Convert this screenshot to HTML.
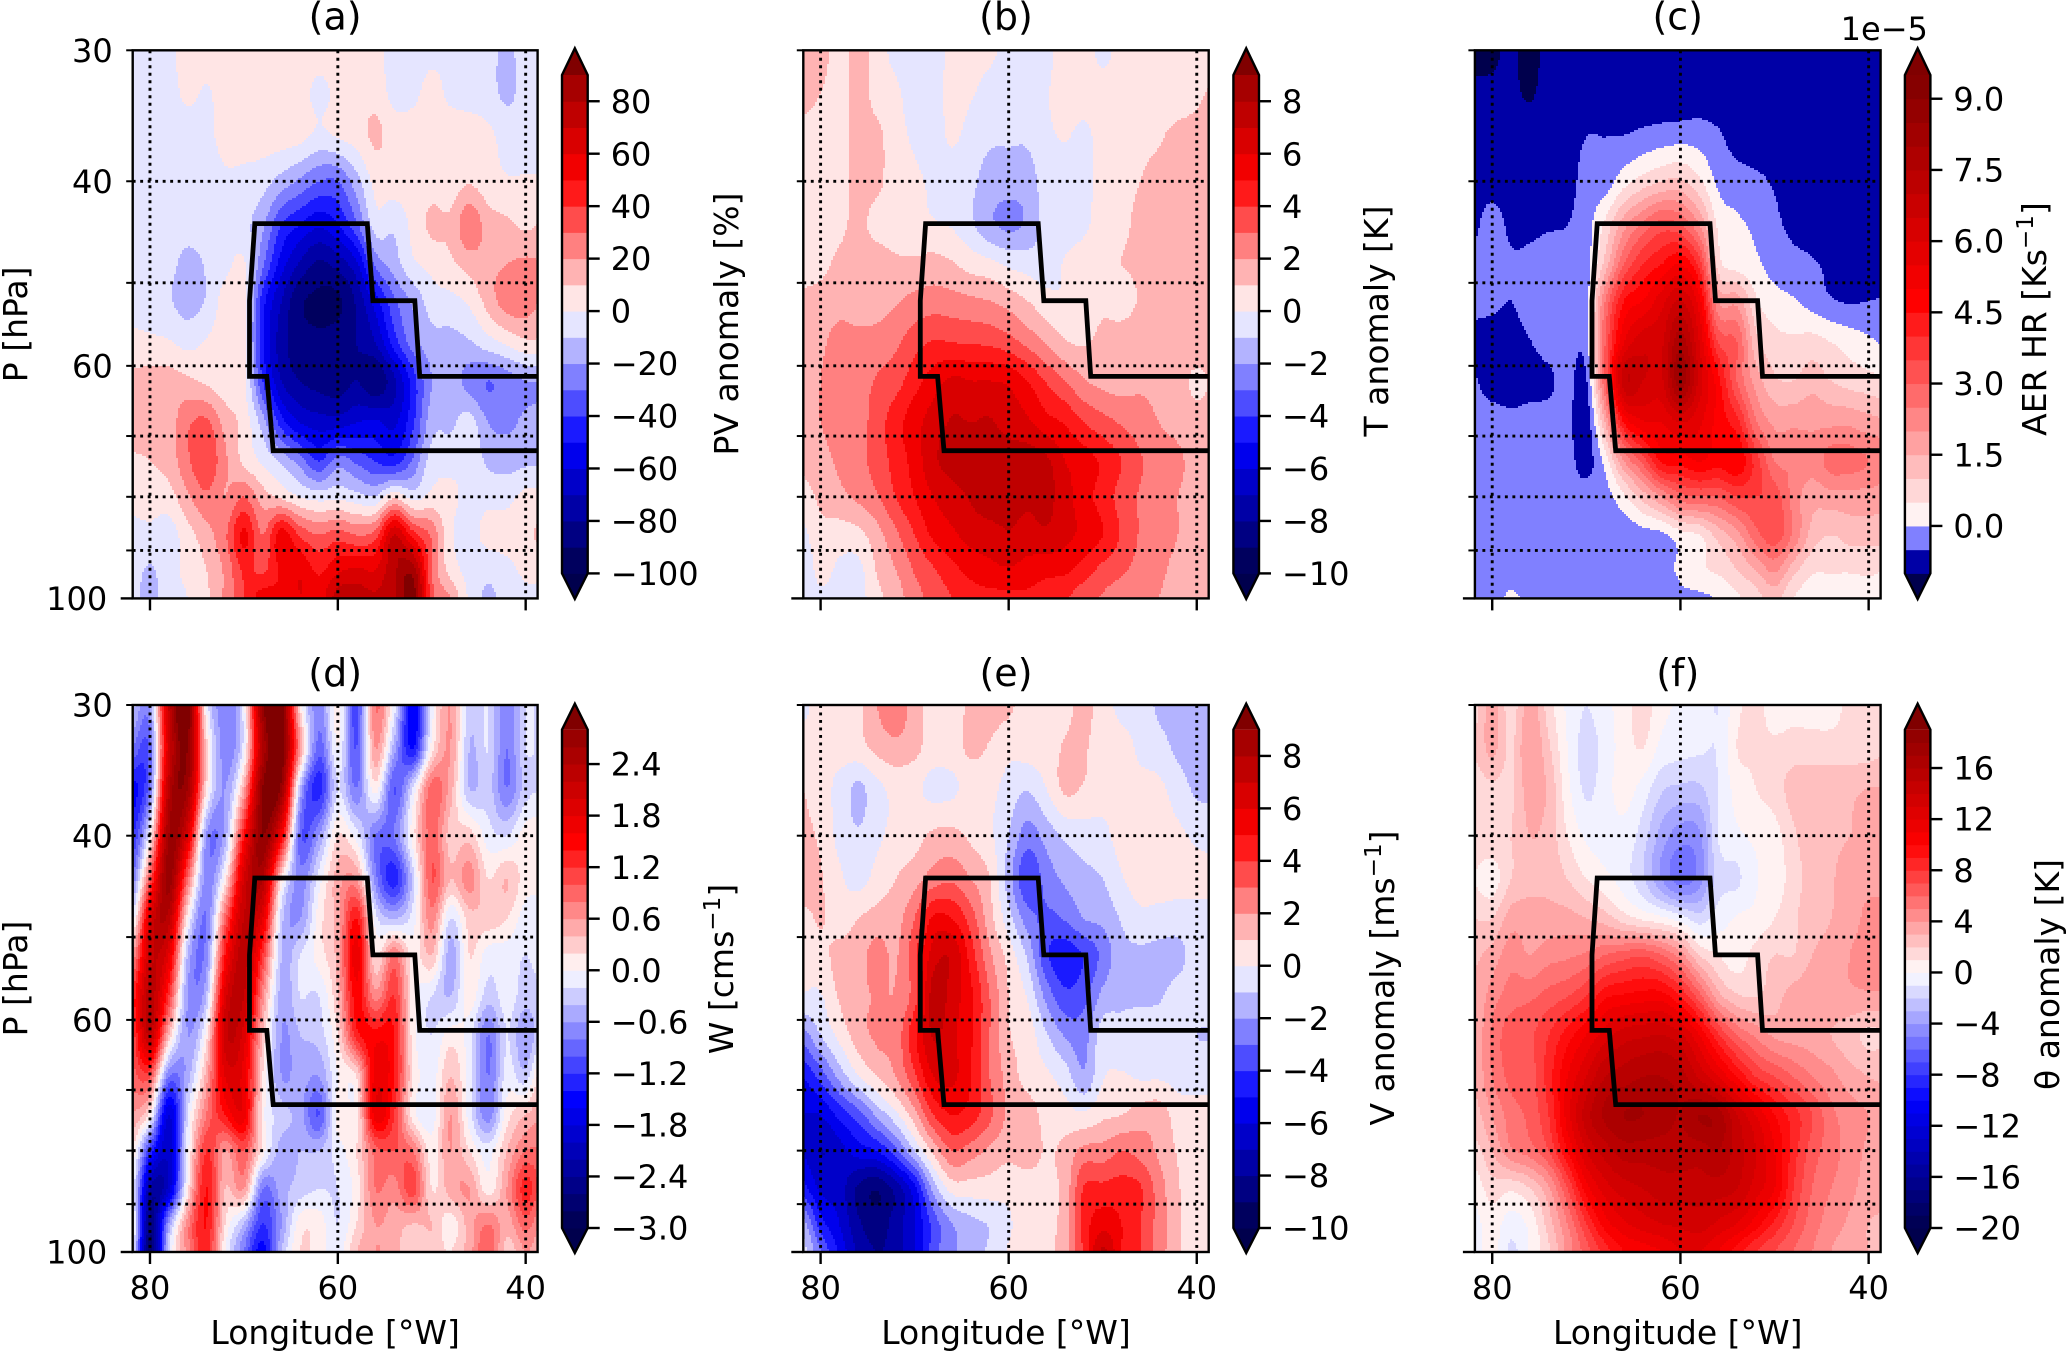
<!DOCTYPE html>
<html lang="en">
<head>
<meta charset="utf-8">
<title>Anomaly cross-sections</title>
<style>
html,body{margin:0;padding:0;background:#fff;}
svg{display:block;}
text{font-family:"DejaVu Sans","Liberation Sans",sans-serif;fill:#000;}
</style>
</head>
<body>
<svg id="figure" xmlns="http://www.w3.org/2000/svg" width="2067" height="1352" viewBox="0 0 2067 1352"></svg>
<script>
const longitudes = [82,80,78,76,74,72,70,68,66,64,62,60,58,56,54,52,50,48,46,44,42,40,38];
const pressures = [30,33,36,40,44,48,52,57,62,68,74,80,87,94,100];
const gridLongitudes = [80,60,40];
const gridPressures = [40,50,60,70,80,90];
const yMinorTicks = [30,40,50,60,70,80,90];
const yLabelledMinor = [30,40,60];
const regionLon = [38,51.28,51.8,56.27,56.86,68.84,69.4,69.4,67.56,66.88,38];
const regionP = [61.4,61.4,52,52,43.9,43.9,52,61.4,61.4,72.3,72.3];

const pvAnomaly = [
[-3,-4,-2,4,4,5,5,5,5,5,3,4,4,2,-3,-4,-2,-2,-5,-7,-12,-6,-5],
[-4,-5,-4,2,-1,4,5,5,5,3,-2,2,4,6,-3,-2,3,-2,-4,-6,-12,-6,-5],
[-5,-6,-6,-5,-3,4,5,5,5,4,-2,2,5,12,5,4,5,5,5,2,-4,-5,-5],
[-5,-5,-6,-6,-6,-2,-3,-6,-14,-22,-30,-30,-14,3,5,5,6,5,9,4,1,1,1],
[-3,-5,-5,-6,-6,-5,-7,-18,-40,-50,-58,-50,-32,-5,-8,3,12,12,28,15,12,8,12],
[-4,-5,-7,-13,-9,-3,1,-28,-55,-72,-82,-76,-62,-28,-15,-2,3,8,14,17,20,22,20],
[-4,-5,-9,-14,-9,4,3,-45,-70,-88,-92,-92,-78,-55,-32,-18,-5,-3,2,14,25,25,18],
[3,2,1,-3,1,5,3,-48,-75,-85,-88,-85,-80,-70,-45,-25,-14,-13,-11,-4,2,8,8],
[12,14,14,12,8,4,2,-40,-70,-80,-84,-86,-80,-88,-72,-45,-20,-15,-24,-30,-25,-20,-20],
[12,13,15,28,32,16,6,-15,-45,-60,-65,-65,-60,-58,-62,-42,-14,-12,-6,-20,-22,-18,-16],
[9,10,14,28,38,22,8,-2,-12,-25,-40,-25,-32,-40,-45,-28,-5,-3,-2,-12,-14,-12,-12],
[3,5,6,18,28,20,30,15,8,0,-4,-2,-6,-9,8,-4,3,2,-3,-3,-3,3,3],
[-3,-3,-5,6,16,28,52,30,55,38,30,35,30,35,70,45,28,2,-3,3,4,8,12],
[-6,-11,-4,3,10,22,42,38,52,58,48,58,62,60,78,85,30,6,-3,-7,-3,2,3],
[-6,-13,-5,0,8,22,40,55,52,60,55,75,75,72,78,95,35,20,-2,-12,-5,-2,-3]
];
const tAnomaly = [
[1.5,1.5,.5,1.5,.5,-.3,-.5,-.5,.3,.4,.2,-.3,-.2,-.3,.5,.5,-.3,.4,.5,.5,.5,.5,.5],
[1.5,1,.5,1.4,.6,.2,-.5,-.5,.4,.1,-.4,-.5,-.6,-.1,.5,.5,.5,.5,.5,.5,.5,.8,1.2],
[.6,.5,.6,1.4,1.2,.4,-.2,-.5,.2,-.4,-.8,-.8,-.8,-.2,.1,-.2,.4,.6,.8,.9,1.2,1.3,1.5],
[.5,.5,.6,1.3,1.2,.5,.2,-.2,-.5,-.8,-1.4,-1.6,-1.5,-.5,-.4,-.3,.4,.7,1,1.2,1.3,1.4,1.5],
[.5,.6,.8,1.2,.7,.5,.3,.1,-.1,-.8,-1.8,-2.2,-1.8,-.6,-.5,-.2,.5,.8,1.2,1.3,1.4,1.5,1.5],
[.8,.8,1.2,1.4,1.5,1.2,1.2,1.4,1.1,.6,.3,-.2,-.4,-.5,.1,.5,.8,1,1.2,1.4,1.5,1.5,1.5],
[1.1,1.3,1.6,1.5,1.6,1.9,2.3,2.5,2.4,2.2,2,1.6,1,.4,.1,.4,.8,.6,1.1,1.4,1.5,1.5,1.5],
[1.5,1.8,2.4,2.3,2.4,2.8,3.6,4.1,4,3.9,3.8,3.4,2.7,1.9,1.1,.9,1.3,1.5,1.6,1.6,1.6,1.6,1.6],
[1.6,2,2.6,2.6,3.1,3.6,4.6,5.5,6.2,6,6,5.8,5,3.9,3,2.1,1.7,1.6,1.8,1.7,1.4,.8,1.2],
[1.6,2,2.5,2.6,3.5,4.6,5.6,6.5,7.1,7,7.1,6.6,6.2,5.4,4.9,4,3.4,2.9,2.5,2,1.7,1.4,1.4],
[1.2,1.6,2.2,2.7,3.4,4.4,5.4,6.8,7.3,7.4,7.4,7.5,7.5,7.2,6,5.5,4.8,4,3.1,2.6,2.2,1.6,1.5],
[.6,1.2,1.7,2.2,2.9,4,5,6,6.6,7.1,7.5,7.4,7.2,7.3,6.4,5.4,4.6,3.6,2.9,2.4,2,1.6,1.5],
[-.3,.7,.5,.7,1.6,2.8,4,5.2,5.8,6.4,6.6,6.9,6.6,6.8,6.3,5.7,5,3.9,2.9,2.4,2,1.5,1.4],
[-.8,.3,-.2,-.3,1.1,2,3.1,3.9,4.7,5.3,5.7,5.9,5.6,5.3,5.2,4.5,3.7,3.2,2.6,2.2,1.7,1.3,1.2],
[-.5,-.2,-.4,-.4,.7,1.5,2.6,3.4,4,4.6,4.7,4.7,4.8,4.5,4.1,3.4,2.9,2.4,2.1,2,1.5,1.2,1.2]
];
const aerHeating = [
[-1.15,-1.1,-.9,-1.2,-.8,-.8,-.8,-.8,-.8,-.8,-.8,-.8,-.8,-.8,-.8,-.8,-.8,-.8,-.8,-.8,-.8,-.8,-.8],
[-.9,-.9,-.9,-1.05,-.8,-.8,-.8,-.8,-.8,-.8,-.8,-.8,-.8,-.8,-.8,-.8,-.8,-.8,-.8,-.8,-.8,-.8,-.8],
[-.8,-.8,-.8,-.8,-.8,-.75,-.52,-.52,-.52,-.4,-.3,-.25,-.25,-.45,-.7,-.8,-.8,-.8,-.8,-.8,-.8,-.8,-.8],
[-.7,-.7,-.8,-.8,-.8,-.7,-.3,-.25,.3,.7,1,1.1,.6,-.1,-.3,-.4,-.55,-.7,-.8,-.8,-.8,-.8,-.8],
[-.6,-.3,-.6,-.6,-.55,-.5,-.2,.6,1.8,2.6,3.2,3,2,.4,.1,-.1,-.4,-.6,-.7,-.8,-.8,-.8,-.8],
[-.4,-.3,-.45,-.4,-.3,-.25,-.2,1.2,3,4,4.5,5,3.8,.8,.3,.1,-.2,-.35,-.45,-.6,-.8,-.8,-.8],
[-.4,-.4,-.5,-.3,-.3,-.25,-.2,2.5,4.5,5,5.8,6.5,5.2,2,1.8,.6,.2,.05,-.2,-.45,-.55,-.5,-.45],
[-.6,-.7,-.7,-.52,-.3,-.25,-.2,3,5.5,6.3,6.4,7.8,6,3.5,3,1.2,.7,.6,.7,.5,.3,.1,-.1],
[-.45,-.7,-.7,-.7,-.6,-.3,-.55,3,6.8,6.5,6.4,8.3,6.3,4.7,3,1.8,1.1,1,1.3,1,.8,.7,.5],
[-.3,-.3,-.4,-.3,-.3,-.35,-.8,1.5,4.5,5.4,5.5,6,5.6,4.8,4.2,2.6,1.9,1.9,1.9,1.9,1.9,1.7,1.6],
[-.3,-.3,-.3,-.3,-.3,-.3,-.7,.2,2,3.2,4.6,4.7,5,4.7,4.9,3.8,2.5,2.4,2.2,2.7,2.7,2.5,2.3],
[-.3,-.3,-.3,-.3,-.3,-.3,-.3,-.2,.4,1.2,2,2.8,3,3,3.5,3.5,3.3,2.3,1.7,1.8,1.8,1.8,1.7],
[-.3,-.3,-.3,-.3,-.3,-.3,-.3,-.3,-.3,-.2,-.1,.3,.5,1.2,1.8,2.8,3.3,2.4,1.3,1,1.2,1.2,1.2],
[-.3,-.3,-.3,-.3,-.3,-.3,-.3,-.3,-.3,-.3,-.2,.1,.4,.6,1,1.5,2.1,1.2,.6,.55,.55,.6,.5],
[-.3,-.3,.1,-.2,-.3,-.3,-.3,-.3,-.3,-.3,-.25,-.1,-.1,.05,.4,.8,1.2,.5,.2,.2,.2,.2,.2]
];
const wAnomaly = [
[-.3,-.6,2.2,3,0,-.7,-.1,2.7,3,.2,-.7,.1,-1.1,.8,-.1,-1.6,-.1,.6,-.3,-.2,-.8,-.2,-.3],
[-.8,-.9,2,2.8,.3,-.7,-.1,2.4,3,.6,-.9,0,-1,.6,-.5,-1.4,.1,.6,-.4,-.2,-.8,-.2,-.3],
[-1.5,-.8,2.3,2.6,.2,-.6,.5,2.8,2.7,-.4,-1.3,-.2,-.8,.1,-1,-.2,.9,.5,-.4,-.3,-.8,-.3,-.2],
[-1.3,0,2.6,1.9,-.6,-.5,1.4,2.8,1.6,-.9,-.6,.2,-.1,-.8,-.8,.1,.9,.3,.3,-.1,-.2,.1,.1],
[-.9,1,2.7,.9,-.7,.1,2,2.4,.2,-.7,-.1,.5,.6,-.7,-1.3,-.3,1,.4,.7,.2,.4,.1,.1],
[-.3,1.9,2.3,.1,-.8,.9,2.2,1.8,-.3,-.6,.1,.5,1.4,-.1,-.4,-.1,.7,-.2,.3,.3,.2,-.1,-.1],
[.5,2.1,1.8,-.4,-.7,1.4,2.3,1.2,-.4,-.2,.1,.5,1.7,.2,.8,.1,.4,-.5,.2,-.1,-.1,-.2,-.1],
[1.2,2.3,1.2,-.6,-.4,1.9,2.2,.7,-.5,-.2,-.2,.4,1.5,.7,1.2,.1,-.2,-.4,.1,-.3,-.1,-.3,-.2],
[1,2.2,.4,-.6,.1,2.1,1.9,.4,-.6,-.4,-.3,.2,1.3,1.5,1.4,.1,-.2,.1,-.1,-.8,-.2,-.6,-.1],
[.9,1,-.8,-.5,.5,1.8,1.7,.2,-.6,-.5,-.6,0,.2,1.7,1.4,.2,-.1,.4,-.1,-.8,-.1,-.3,.5],
[.6,.1,-1.8,-.2,.8,1.4,1.7,.1,-.3,-.5,-1,.1,.1,1.7,1.2,.1,-.1,.6,-.1,-.7,.1,.4,.6],
[.3,-1.2,-1.9,-.1,1.2,.6,1,.1,-.5,-.4,-.4,-.1,.2,.9,1,.8,.1,.6,.2,-.1,.4,.8,.8],
[.1,-2.2,-1.9,.1,1.4,.4,.6,-.8,-.5,-.3,-.2,-.2,.1,.8,.7,1.1,.2,.5,.6,.1,.6,1.3,.8],
[.3,-2.5,-.6,.7,1.4,.2,-.4,-1.2,-.6,.1,.1,-.2,.2,.6,.5,.4,.4,.1,.5,.8,.5,.9,.5],
[.2,-2.7,-.3,.7,1.3,0,-.8,-1.5,-.4,.2,.1,-.1,.4,.6,.5,.2,.3,.2,.5,1,.3,.6,.4]
];
const vAnomaly = [
[-.2,.3,.5,.8,2,2.7,1.5,.5,.4,1.3,1.4,1.2,.5,.5,.7,1.3,.5,-.3,-.4,-1.2,-1.3,-1.4,-1.2],
[.4,.2,.4,.6,1.3,1.7,1.3,.5,.6,1.2,.9,.3,.4,.5,1.1,1.1,.5,.4,-.2,-.6,-1.2,-1.4,-1.3],
[1,.4,-.3,-1.2,-.3,.3,.2,-.3,-.2,.4,.3,-.4,-.9,0,1.2,.9,.4,.4,.3,.2,-.5,-1.2,-1.2],
[1.3,.8,-.3,-.9,-.2,.3,.6,1.2,1.3,.8,.2,-1,-2.5,-1.6,-.8,-.5,-.3,.4,.5,.4,.2,-.2,-.4],
[1.9,1.1,.2,-.4,.4,1,1.6,2.5,2.8,2,1,-1.5,-3.8,-2.6,-1.8,-1.3,-1,-.1,.5,.5,.4,.3,.3],
[.6,1.1,.4,1,1.4,1.6,3,5.2,5,3.5,1.4,-.6,-2.5,-3.2,-2.9,-2,-1.7,-.9,-.3,-.4,-.5,-.4,-.3],
[.2,.6,1.4,1.6,2.4,1.9,3.7,6.5,6.8,4.5,2.2,.6,-1.2,-3.8,-4.6,-3.9,-2.7,-1.3,-1.2,-1.3,-1.3,-.5,-.4],
[-.1,-.1,1.1,1.7,2.1,2.1,3.6,7.5,6.5,5.2,3,1,-.1,-2.3,-3.7,-3.3,-1.7,-1.2,-1.2,-1.1,-.6,-.5,-.5],
[-2.5,-1,.3,1.5,2.2,2.4,4.8,7.1,6.2,5.1,3,1.1,.6,-.9,-2.1,-2.4,-.5,-.6,-.3,-.4,-.5,-1,-1],
[-5,-3.6,-1.7,-.1,1,2,3.8,6,6.2,5,3,1.6,.6,.2,-.5,-1.8,-.1,.1,-.1,-.1,-.3,-.4,-.4],
[-6,-6,-4.7,-3.5,-1.8,-.3,1.6,4,5,4.5,3.2,1.8,1.6,.6,.4,.2,.8,1,1.5,1.6,.5,.4,.4],
[-6,-7,-6.4,-5.5,-5,-3.3,-1,1.3,3,2.5,1.8,1.3,1.6,.9,1.3,2.3,2.4,3,2.6,1.8,.9,.4,.4],
[-4.5,-6.2,-6.5,-8.2,-8.9,-7.6,-5.3,-1.6,.4,.5,.5,.3,.4,.7,1.4,4.1,4.3,4.4,4.1,2.5,1.1,.5,.4],
[-1.5,-4.5,-6,-7.8,-8.5,-7.5,-6,-3.6,-2,-1.3,-.9,-.1,.3,.7,1.5,4.4,5.6,5,4,2.6,1.2,.4,.4],
[-.5,-3,-5.2,-7.2,-8,-7.5,-6,-3.5,-2.2,-1.6,-.8,.1,.3,.7,1.7,4.2,7.2,5,4,2.5,1.2,.3,.4]
];
const thetaAnomaly = [
[1.5,3.5,1.5,3.5,1.5,-.2,-1,-.3,.5,1.5,.3,-.1,-.2,-1,.7,1.5,.3,.6,.5,.5,1.3,1.3,1.3],
[2,3.3,1.8,4,2.2,0,-1.4,-.6,.5,1,-.3,-.6,-.8,-.9,1,1.1,1.3,1.5,1.5,1.5,1.5,1.5,2],
[1.5,1.8,1.8,3.5,2.8,.3,-1.2,-.4,.4,-.4,-1.8,-2.2,-2.2,-1,.4,1,1.5,2.4,2.6,2.6,2.8,3,3],
[1.8,1.8,2,3,2.6,1,-.2,-.4,-.3,-1.5,-3.4,-4.5,-4.2,-1,-.2,.2,.6,1.8,2.6,2.8,3,3.3,3.3],
[1,.5,2,2.6,2.7,2,1,.3,-.5,-1.8,-4,-5.5,-4.5,-1.5,-1.2,-.1,.4,1.5,2.5,2.9,3.4,3.6,3.5],
[2,2,3.5,3.6,3.4,3.4,3,2.5,1.5,.8,.3,-.5,-1.5,-.5,.1,.3,1,1.8,2.7,3,3.4,4.4,4.5],
[2.8,3.4,4.6,4,4.6,4.8,5.2,6,6.5,6.8,6,4.5,2,1,.4,1.4,2,2,3,3.3,4,4.7,4.7],
[3,4.5,5.5,5.8,6.4,7,8,9.8,10.2,10.5,10.5,9,6.5,3.5,2.2,2,2.6,3.4,3.7,3.8,3.8,3.8,3.8],
[3,5.2,6.6,6.8,8,9.5,11,12.5,13.5,13.8,14,13.2,11,8.2,6,4.8,3.8,3.6,3.5,3,2.4,1.8,2],
[3,5,6.3,6.5,8.5,11,13,15,15.5,16,16,15.5,13.8,12,10,8,7,6,5,4.3,3.5,3,2.8],
[2.5,4,5.5,6.3,8,11.5,14.5,16.2,17,17,16.5,16,17,16.5,14,12,10,8.5,7,5.3,4.5,4,3.5],
[1.5,3,4.8,5.5,7,10,13,14.5,15.5,15.5,15.5,15.5,15.5,16,14.5,13,11,8.5,6.5,5.5,4.5,3.8,3.3],
[.3,1.5,1.2,2,3.8,7,10.5,12.5,13.5,14,14.5,14.5,14.5,14.5,14,12.5,11,8,6,5,4.3,3.5,3],
[-.4,.5,-.5,.3,2.5,5,8,10.5,11.8,12.5,13,13.2,13.5,12.8,12,10.5,8.8,7,5.5,4.5,3.8,3,3],
[-.5,.5,-1.2,.1,1.8,4.3,6.5,8.5,10,10.5,11,12,12,11,9.5,8,7,6,5,4,3.5,3,3]
];

const pvTicks = [-100,-80,-60,-40,-20,0,20,40,60,80];
const tTicks = [-10,-8,-6,-4,-2,0,2,4,6,8];
const aerTicks = [0,1.5,3,4.5,6,7.5,9];
const wTicks = [-3,-2.4,-1.8,-1.2,-.6,0,.6,1.2,1.8,2.4];
const vTicks = [-10,-8,-6,-4,-2,0,2,4,6,8];
const thetaTicks = [-20,-16,-12,-8,-4,0,4,8,12,16];

const FONT_TICK = 32, FONT_LABEL = 33, FONT_TITLE = 38;
const columnsGeom = [
  {left:132.7,right:537.6,cbL:562,cbR:587.7},
  {left:803.3,right:1208.7,cbL:1233.4,cbR:1259},
  {left:1474.9,right:1880.6,cbL:1904.9,cbR:1930.4}
];
const rowsGeom = [
  {top:50.3,bottom:598.4,cbTop:75,cbBottom:573.4,tipTop:48.3,tipBottom:599,titleY:29.5},
  {top:705,bottom:1252,cbTop:729.7,cbBottom:1228,tipTop:703.7,tipBottom:1253,titleY:686}
];
const panels = [
  {id:'a',col:0,row:0,title:'(a)',grid:pvAnomaly,min:-100,max:90,step:10,neg:100,pos:100,ticks:pvTicks,dec:0,label:['PV anomaly [%]'],labelY:324,labelX:738},
  {id:'b',col:1,row:0,title:'(b)',grid:tAnomaly,min:-10,max:9,step:1,neg:10,pos:10,ticks:tTicks,dec:0,label:['T anomaly [K]'],labelY:321,labelX:1388},
  {id:'c',col:2,row:0,title:'(c)',grid:aerHeating,min:-1,max:9.5,step:.5,neg:1,pos:9.5,ticks:aerTicks,dec:1,label:['AER HR [Ks','\u22121',']'],labelY:319,labelX:2046,offset:'1e\u22125'},
  {id:'d',col:0,row:1,title:'(d)',grid:wAnomaly,min:-3,max:2.8,step:.2,neg:3,pos:3,ticks:wTicks,dec:1,label:['W [cms','\u22121',']'],labelY:969,labelX:733},
  {id:'e',col:1,row:1,title:'(e)',grid:vAnomaly,min:-10,max:9,step:1,neg:10,pos:10,ticks:vTicks,dec:0,label:['V anomaly [ms','\u22121',']'],labelY:978,labelX:1394},
  {id:'f',col:2,row:1,title:'(f)',grid:thetaAnomaly,min:-20,max:19,step:1,neg:20,pos:20,ticks:thetaTicks,dec:0,label:['\u03b8 anomaly [K]'],labelY:974.5,labelX:2059}
];

const SVGNS = 'http://www.w3.org/2000/svg';
const figure = document.getElementById('figure');
function add(parent, tag, attrs, text) {
  const node = document.createElementNS(SVGNS, tag);
  for (const k in attrs) node.setAttribute(k, attrs[k]);
  if (text !== undefined) node.textContent = text;
  parent.appendChild(node);
  return node;
}
function seismic(t) {
  const stops = [[0,0,0,.3],[.25,0,0,1],[.5,1,1,1],[.75,1,0,0],[1,.5,0,0]];
  t = Math.max(0, Math.min(1, t));
  for (let i = 0; i < 4; i++) {
    const a = stops[i], b = stops[i+1];
    if (t <= b[0]) {
      const f = (t - a[0]) / (b[0] - a[0]);
      const c = [1,2,3].map(j => Math.round(255 * (a[j] + (b[j] - a[j]) * f)));
      return 'rgb(' + c.join(',') + ')';
    }
  }
  return 'rgb(128,0,0)';
}
function bandColor(cfg, mid) {
  return seismic(.5 + .5 * mid / (mid < 0 ? cfg.neg : cfg.pos));
}
function locate(axis, v, map) {
  const m = map(v);
  for (let i = 0; i < axis.length - 1; i++) {
    const a = map(axis[i]), b = map(axis[i+1]);
    if (m <= b || i === axis.length - 2) return i + (m - a) / (b - a);
  }
  return axis.length - 1;
}
function cubicWeights(t) {
  const t2 = t * t, t3 = t2 * t;
  return [-.5*t3 + t2 - .5*t, 1.5*t3 - 2.5*t2 + 1, -1.5*t3 + 2*t2 + .5*t, .5*t3 - .5*t2];
}
function clampIdx(i, n) { return Math.max(0, Math.min(n - 1, i)); }
function fmtTick(v, dec) {
  const s = Math.abs(v).toFixed(dec);
  return (v < 0 ? '\u2212' : '') + s;
}

panels.forEach(function (cfg) {
  const col = columnsGeom[cfg.col], row = rowsGeom[cfg.row];
  const lonLeft = 81.84, lonRight = 38.73;
  const xScale = lon => col.left + (lonLeft - lon) / (lonLeft - lonRight) * (col.right - col.left);
  const yScale = p => row.top + Math.log10(p / 30) / Math.log10(100 / 30) * (row.bottom - row.top);
  const group = add(figure, 'g', {});
  
  

  const clipId = 'clip-' + cfg.id;
  const defs = add(group, 'defs', {});
  const clip = add(defs, 'clipPath', {id: clipId});
  add(clip, 'rect', {x: col.left, y: row.top, width: col.right - col.left, height: row.bottom - row.top});

  const plot = add(group, 'g', {'clip-path': 'url(#' + clipId + ')'});
  
  

  const bandCount = Math.round((cfg.max - cfg.min) / cfg.step);
  const runs = [];
  for (let i = 0; i < bandCount + 2; i++) runs.push([]);
  const x0 = Math.floor(col.left), x1 = Math.ceil(col.right);
  const y0 = Math.floor(row.top), y1 = Math.ceil(row.bottom);
  const cell = 2;
  const colInfo = [];
  for (let px = x0; px < x1; px += cell) {
    const lon = lonLeft - (px + cell / 2 - col.left) / (col.right - col.left) * (lonLeft - lonRight);
    const fx = locate(longitudes, lon, v => -v);
    const ix = clampIdx(Math.floor(fx), longitudes.length - 1);
    colInfo.push({ix: ix, w: cubicWeights(fx - ix)});
  }
  for (let py = y0; py < y1; py += cell) {
    const frac = (py + cell / 2 - row.top) / (row.bottom - row.top);
    const p = 30 * Math.pow(100 / 30, frac);
    const fy = locate(pressures, p, v => Math.log(v));
    const iy = clampIdx(Math.floor(fy), pressures.length - 1);
    const wy = cubicWeights(fy - iy);
    let current = -1, start = x0;
    for (let k = 0; k <= colInfo.length; k++) {
      const px = x0 + k * cell;
      let band = -2;
      if (k < colInfo.length) {
        const info = colInfo[k];
        let v = 0;
        for (let r = 0; r < 4; r++) {
          const rowVals = cfg.grid[clampIdx(iy - 1 + r, pressures.length)];
          let s = 0;
          for (let c = 0; c < 4; c++) s += info.w[c] * rowVals[clampIdx(info.ix - 1 + c, longitudes.length)];
          v += wy[r] * s;
        }
        band = Math.floor((v - cfg.min) / cfg.step + 1e-9) + 1;
        band = Math.max(0, Math.min(bandCount + 1, band));
      }
      if (band !== current) {
        if (current >= 0) runs[current].push('M' + start + ' ' + (py + 1) + 'h' + (px - start));
        current = band;
        start = px;
      }
    }
  }
  runs.forEach(function (segs, i) {
    if (!segs.length) return;
    const mid = cfg.min + (i - .5) * cfg.step;
    const color = i === bandCount + 1 ? 'rgb(128,0,0)' : i === 0 ? 'rgb(0,0,77)' : bandColor(cfg, mid);
    const band = add(plot, 'path', {d: segs.join(''), fill: 'none', stroke: color, 'stroke-width': cell, 'shape-rendering': 'crispEdges'});
    
    
  });

  gridLongitudes.forEach(function (lon) {
    const line = add(plot, 'line', {x1: xScale(lon), x2: xScale(lon), y1: row.top, y2: row.bottom, stroke: '#000', 'stroke-width': 2.9, 'stroke-dasharray': '2.9 4.6'});
    
    
  });
  gridPressures.forEach(function (p) {
    const line = add(plot, 'line', {x1: col.left, x2: col.right, y1: yScale(p), y2: yScale(p), stroke: '#000', 'stroke-width': 2.9, 'stroke-dasharray': '2.9 4.6'});
    
    
  });

  const regionPts = regionLon.map((lon, i) => xScale(lon).toFixed(1) + ',' + yScale(regionP[i]).toFixed(1)).join(' ');
  const region = add(plot, 'polyline', {points: regionPts, fill: 'none', stroke: '#000', 'stroke-width': 4.8, 'stroke-linejoin': 'miter'});
  
  

  const frame = add(group, 'rect', {x: col.left, y: row.top, width: col.right - col.left, height: row.bottom - row.top, fill: 'none', stroke: '#000', 'stroke-width': 2.4});
  
  

  const title = add(group, 'text', {x: (col.left + col.right) / 2, y: row.titleY, 'text-anchor': 'middle', 'font-size': FONT_TITLE}, cfg.title);
  
  

  gridLongitudes.forEach(function (lon) {
    const tick = add(group, 'line', {x1: xScale(lon), x2: xScale(lon), y1: row.bottom, y2: row.bottom + 12, stroke: '#000', 'stroke-width': 2.4});
    
    
    if (cfg.row === 1) {
      const lab = add(group, 'text', {x: xScale(lon), y: row.bottom + 47, 'text-anchor': 'middle', 'font-size': FONT_TICK}, String(lon));
      
      
    }
  });
  if (cfg.row === 1) {
    const xLabel = add(group, 'text', {x: (col.left + col.right) / 2, y: 1344, 'text-anchor': 'middle', 'font-size': FONT_LABEL}, 'Longitude [\u00b0W]');
    
    
  }
  yMinorTicks.forEach(function (p) {
    const tick = add(group, 'line', {x1: col.left - 6.5, x2: col.left, y1: yScale(p), y2: yScale(p), stroke: '#000', 'stroke-width': 2});
    
    
  });
  const majorTick = add(group, 'line', {x1: col.left - 12, x2: col.left, y1: row.bottom, y2: row.bottom, stroke: '#000', 'stroke-width': 2.4});
  
  
  if (cfg.col === 0) {
    yLabelledMinor.forEach(function (p) {
      const lab = add(group, 'text', {x: col.left - 20, y: yScale(p) + 11.6, 'text-anchor': 'end', 'font-size': FONT_TICK}, String(p));
      
      
    });
    const lab100 = add(group, 'text', {x: col.left - 25.5, y: row.bottom + 11.6, 'text-anchor': 'end', 'font-size': FONT_TICK}, '100');
    
    
    const cy = (row.top + row.bottom) / 2;
    const yLabel = add(group, 'text', {x: 27, y: cy, 'text-anchor': 'middle', 'font-size': FONT_LABEL, transform: 'rotate(-90 27 ' + cy + ')'}, 'P [hPa]');
    
    
  }

  const bar = add(group, 'g', {});
  
  
  const cbY = v => row.cbBottom - (v - cfg.min) / (cfg.max - cfg.min) * (row.cbBottom - row.cbTop);
  const cbMid = (col.cbL + col.cbR) / 2;
  const under = add(bar, 'polygon', {points: col.cbL + ',' + row.cbBottom + ' ' + cbMid + ',' + row.tipBottom + ' ' + col.cbR + ',' + row.cbBottom, fill: 'rgb(0,0,77)'});
  
  
  const over = add(bar, 'polygon', {points: col.cbL + ',' + row.cbTop + ' ' + cbMid + ',' + row.tipTop + ' ' + col.cbR + ',' + row.cbTop, fill: 'rgb(128,0,0)'});
  
  
  for (let i = 0; i < bandCount; i++) {
    const lo = cfg.min + i * cfg.step, hi = lo + cfg.step;
    const swatch = add(bar, 'rect', {x: col.cbL, y: cbY(hi), width: col.cbR - col.cbL, height: cbY(lo) - cbY(hi) + .5, fill: bandColor(cfg, (lo + hi) / 2)});
    
    
  }
  const outlinePts = [[col.cbL, row.cbTop],[cbMid, row.tipTop],[col.cbR, row.cbTop],[col.cbR, row.cbBottom],[cbMid, row.tipBottom],[col.cbL, row.cbBottom]].map(a => a.join(',')).join(' ');
  const outline = add(bar, 'polygon', {points: outlinePts, fill: 'none', stroke: '#000', 'stroke-width': 2.4});
  
  
  cfg.ticks.forEach(function (v) {
    const tick = add(bar, 'line', {x1: col.cbR, x2: col.cbR + 12, y1: cbY(v), y2: cbY(v), stroke: '#000', 'stroke-width': 2.4});
    
    
    const lab = add(bar, 'text', {x: col.cbR + 23, y: cbY(v) + 11.6, 'font-size': FONT_TICK}, fmtTick(v, cfg.dec));
    
    
  });
  if (cfg.offset) {
    const offset = add(bar, 'text', {x: col.cbR - 2.5, y: 40, 'text-anchor': 'end', 'font-size': FONT_TICK}, cfg.offset);
    
    
  }
  const cbLabel = add(bar, 'text', {x: cfg.labelX, y: cfg.labelY, 'text-anchor': 'middle', 'font-size': FONT_LABEL, transform: 'rotate(-90 ' + cfg.labelX + ' ' + cfg.labelY + ')'});
  
  
  add(cbLabel, 'tspan', {}, cfg.label[0]);
  if (cfg.label.length > 1) {
    add(cbLabel, 'tspan', {dy: -13, 'font-size': FONT_LABEL * .7}, cfg.label[1]);
    add(cbLabel, 'tspan', {dy: 13}, cfg.label[2]);
  }
});
</script>
</body>
</html>
